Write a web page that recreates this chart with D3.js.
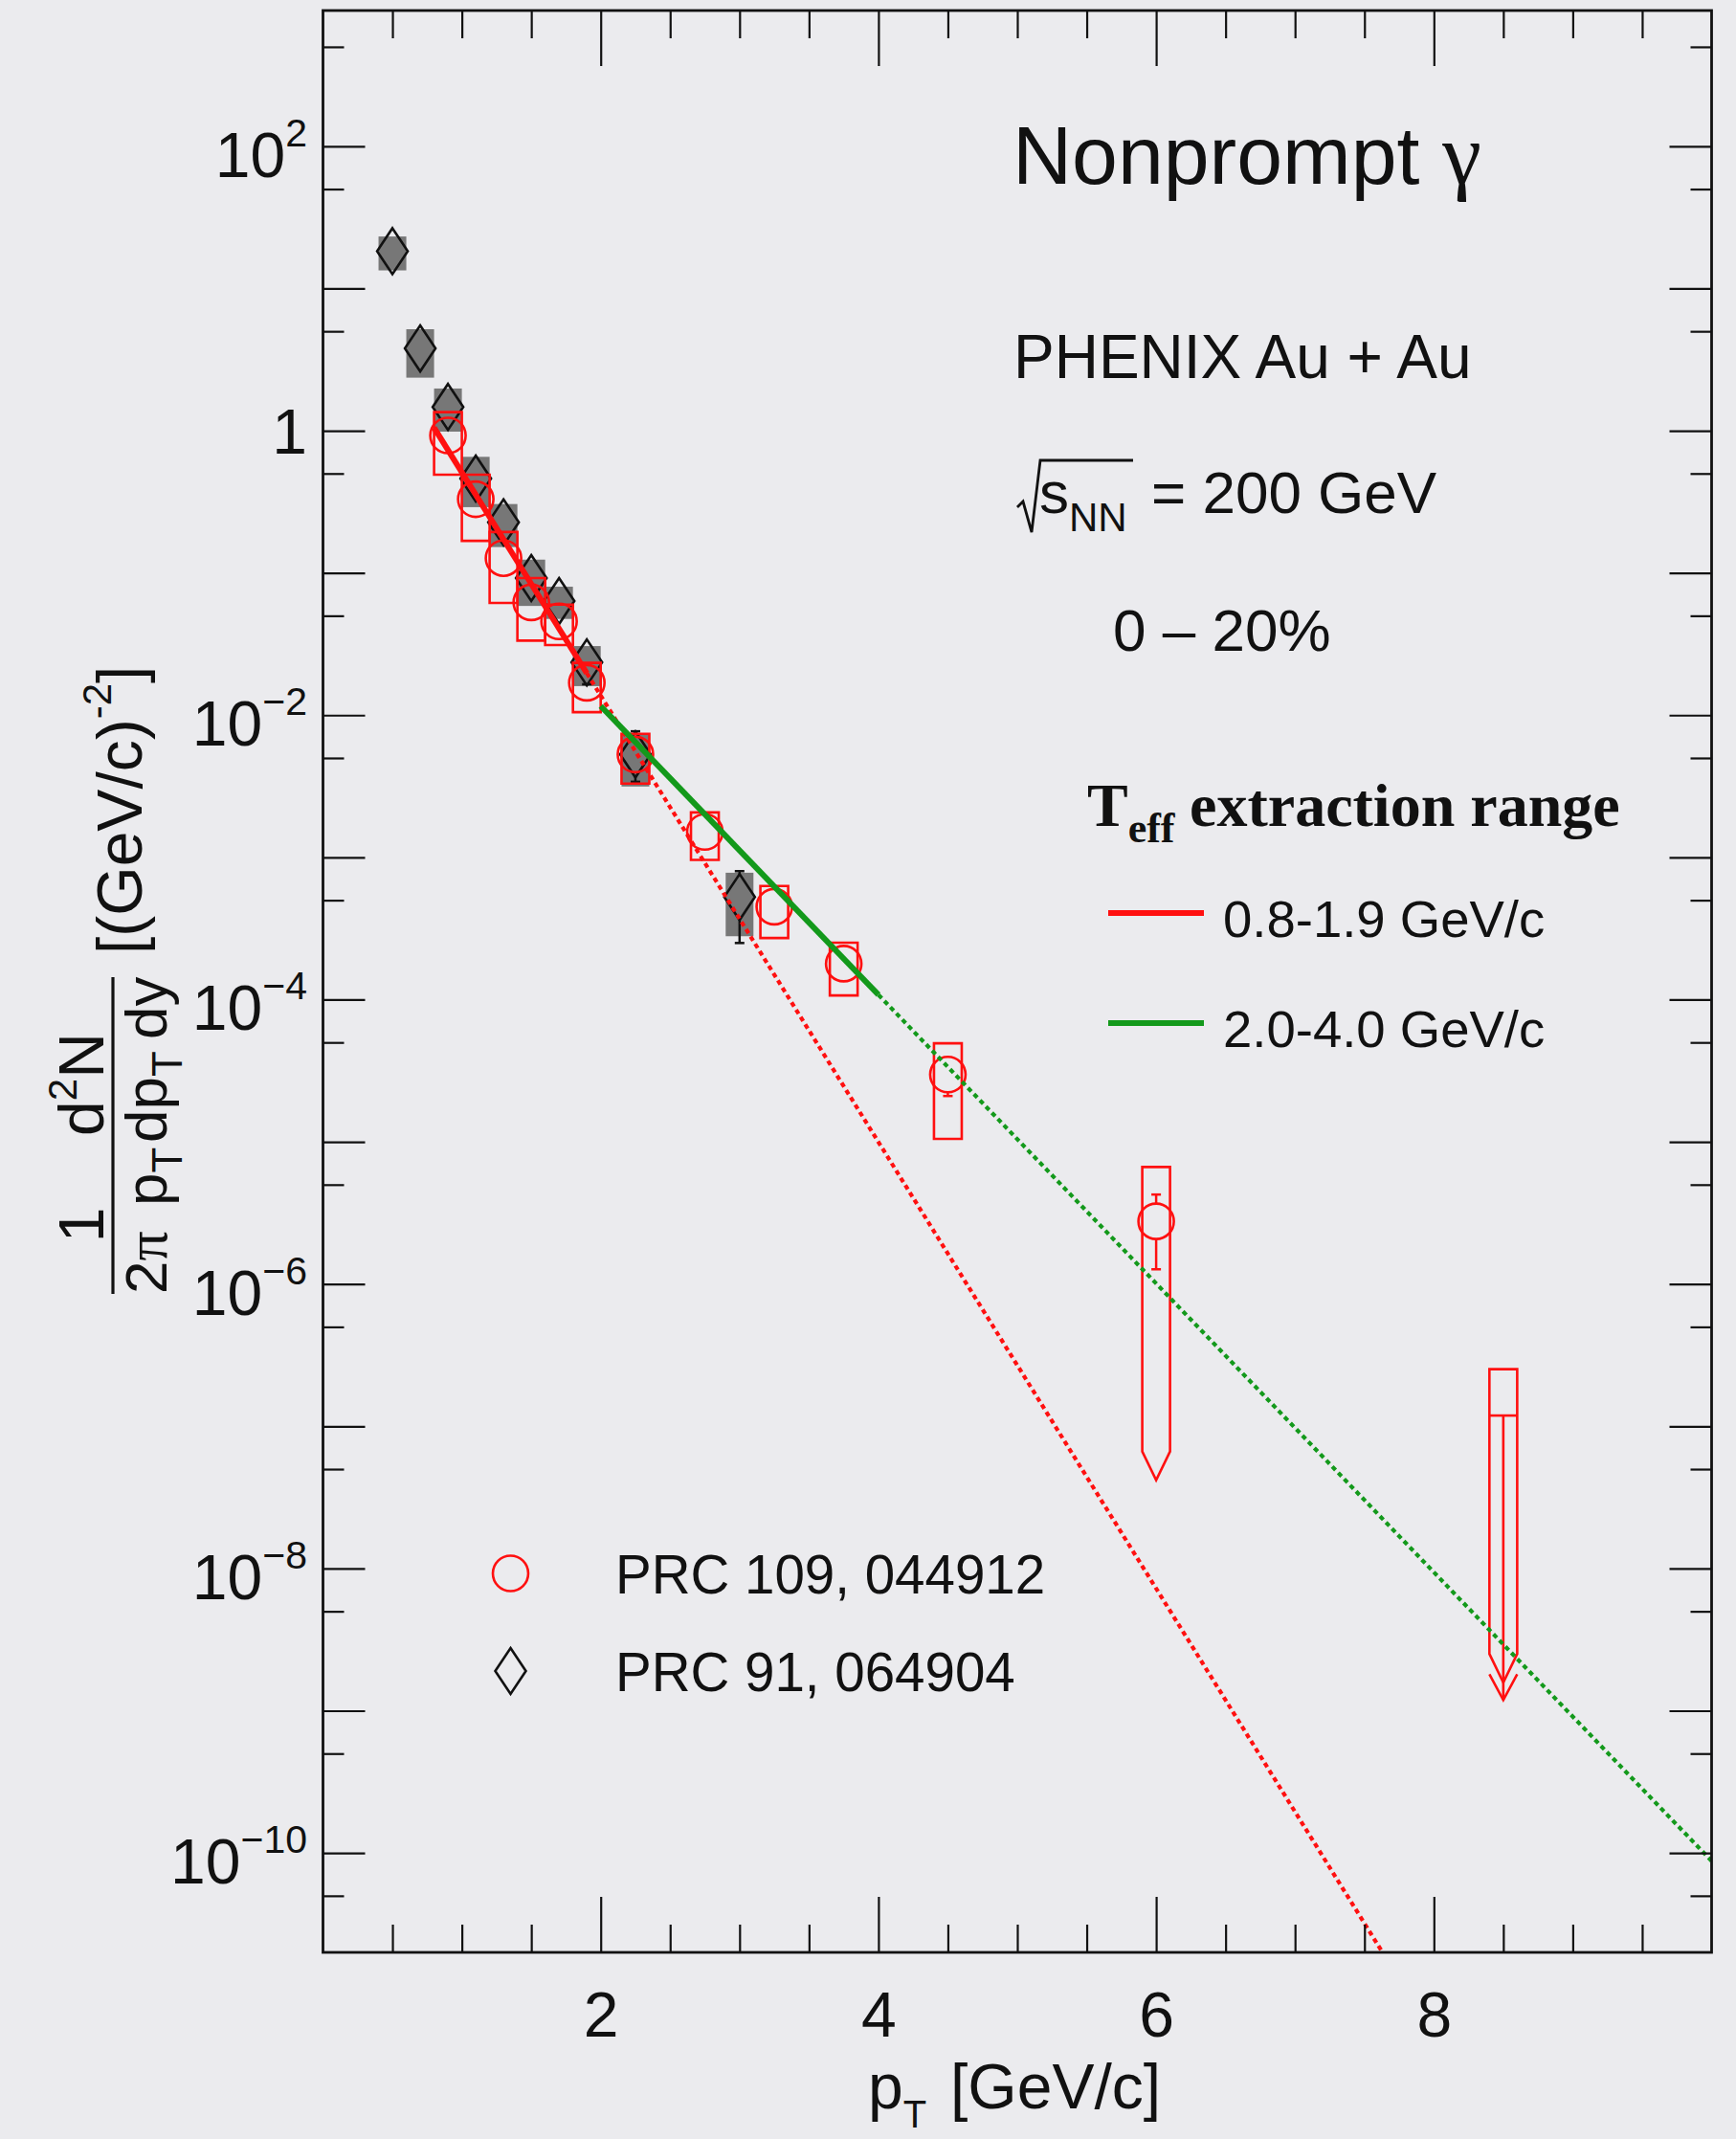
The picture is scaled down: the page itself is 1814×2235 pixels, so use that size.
<!DOCTYPE html>
<html>
<head>
<meta charset="utf-8">
<script src="https://cdn.jsdelivr.net/npm/d3@7"></script>
<style>
  html, body { margin: 0; padding: 0; background: #ebebee; }
  svg { display: block; }
  text { font-family: "Liberation Sans", Arial, Helvetica, sans-serif; fill: #111; }
  .serif { font-family: "Liberation Serif", "Times New Roman", serif; }
</style>
</head>
<body>
<svg id="chart" width="1814" height="2235"></svg>
<script>
// ---- PRC 91, 064904 (open diamonds, grey systematic boxes) ----
const pt91     = [0.5, 0.7, 0.9, 1.1, 1.3, 1.5, 1.7, 1.9, 2.25, 3.0];
const val91    = [18.3, 3.79, 1.47, 0.461, 0.227, 0.092, 0.0634, 0.0235, 0.00529, 5.26e-4];
const sysLo91  = [13.4, 2.36, 0.985, 0.29, 0.152, 0.0586, 0.0475, 0.016, 0.00315, 2.79e-4];
const sysHi91  = [23.2, 5.17, 1.98, 0.655, 0.305, 0.124, 0.080, 0.0306, 0.0074, 7.8e-4];
const statLo91 = [null, null, null, null, null, null, null, 0.0165, 0.0034, 2.5e-4];
const statHi91 = [null, null, null, null, null, null, null, null, 0.0077, 8.0e-4];

// ---- PRC 109, 044912 (open circles, open red systematic boxes) ----
const pt109     = [0.9, 1.1, 1.3, 1.5, 1.7, 1.9, 2.25, 2.75, 3.25, 3.75, 4.5, 6.0];
const val109    = [0.926, 0.33, 0.127, 0.0621, 0.0456, 0.0169, 0.00529, 1.51e-3, 4.5e-4, 1.79e-4, 2.97e-5, 2.76e-6];
const sysLo109  = [0.49, 0.168, 0.0615, 0.0334, 0.0311, 0.0105, 0.0033, 9.6e-4, 2.71e-4, 1.07e-4, 1.05e-5, null];
const sysHi109  = [1.35, 0.49, 0.194, 0.092, 0.0599, 0.0233, 0.0074, 2.07e-3, 6.3e-4, 2.51e-4, 4.93e-5, 6.65e-6];
const sysEnd109 = [null, null, null, null, null, null, null, null, null, null, null, 6.65e-8];
const statLo109 = [null, null, null, null, null, null, null, null, null, null, 2.1e-5, 1.27e-6];
const statHi109 = [null, null, null, null, null, null, null, null, null, null, 3.84e-5, 4.26e-6];

// upper limit of PRC 109 at the highest pT bin
const ulPt     = [8.5];
const ulVal    = [1.19e-7];
const ulSysHi  = [2.52e-7];
const ulSysEnd = [2.51e-9];
const ulArrow  = [1.19e-9];

// exponential fits (straight in log scale): solid over the fit range, dotted beyond
const fitRedPt    = [0.8, 1.9, 7.63];
const fitRedVal   = [1.05, 0.0197, 2.0e-11];
const fitGreenPt  = [2.0, 4.0, 10.0];
const fitGreenVal = [0.01159, 1.081e-4, 8.79e-11];

// axis ticks
const xMajor = [2, 4, 6, 8];
const xTickLabels = ["2", "4", "6", "8"];
const xMinor = [0.5, 1, 1.5, 2.5, 3, 3.5, 4.5, 5, 5.5, 6.5, 7, 7.5, 8.5, 9, 9.5];
const yMajorExp = [2, 1, 0, -1, -2, -3, -4, -5, -6, -7, -8, -9, -10];
const yMinorVal = [500, 50, 5, 0.5, 0.05, 5e-3, 5e-4, 5e-5, 5e-6, 5e-7, 5e-8, 5e-9, 5e-10, 5e-11];
const yLabelExp = [2, 0, -2, -4, -6, -8, -10];

// legend entries
const fitLegendLabels = ["0.8-1.9 GeV/c", "2.0-4.0 GeV/c"];
const dataLegendLabels = ["PRC 109, 044912", "PRC 91, 064904"];

const RED = "#ff1010", GREEN = "#13991b", GREY = "#777777";

const svg = d3.select("#chart");
const frame = { left: 337.5, right: 1788.5, top: 11, bottom: 2040 };
const x = d3.scaleLinear().domain([0, 10]).range([frame.left, frame.right]);
const y = d3.scaleLog().domain([2e-11, 900]).range([frame.bottom, frame.top]);

svg.append("rect").attr("width", 1814).attr("height", 2235).attr("fill", "#ebebee");

svg.append("defs").append("clipPath").attr("id", "plotclip")
  .append("rect").attr("x", frame.left).attr("y", frame.top)
  .attr("width", frame.right - frame.left).attr("height", frame.bottom - frame.top);

const plot = svg.append("g").attr("clip-path", "url(#plotclip)");
const halfW = 0.1; // half bin width of the systematic boxes in GeV/c

// grey systematic boxes
plot.append("g").selectAll("rect").data(pt91).join("rect")
  .attr("x", d => x(d - halfW)).attr("width", d => x(d + halfW) - x(d - halfW))
  .attr("y", (d, i) => y(sysHi91[i]))
  .attr("height", (d, i) => y(sysLo91[i]) - y(sysHi91[i]))
  .attr("fill", GREY);

// error bars: drawn only outside the marker, ROOT style
function errorBars(g, pts, vals, lo, hi, r, color) {
  pts.forEach((p, i) => {
    const cx = x(p), cy = y(vals[i]);
    if (lo[i] != null && y(lo[i]) > cy + r) {
      g.append("line").attr("x1", cx).attr("x2", cx).attr("y1", cy + r).attr("y2", y(lo[i]))
        .attr("stroke", color).attr("stroke-width", 2.5);
      g.append("line").attr("x1", cx - 5).attr("x2", cx + 5).attr("y1", y(lo[i])).attr("y2", y(lo[i]))
        .attr("stroke", color).attr("stroke-width", 2.5);
    }
    if (hi[i] != null && y(hi[i]) < cy - r) {
      g.append("line").attr("x1", cx).attr("x2", cx).attr("y1", cy - r).attr("y2", y(hi[i]))
        .attr("stroke", color).attr("stroke-width", 2.5);
      g.append("line").attr("x1", cx - 5).attr("x2", cx + 5).attr("y1", y(hi[i])).attr("y2", y(hi[i]))
        .attr("stroke", color).attr("stroke-width", 2.5);
    }
  });
}
const gErr91 = plot.append("g");
errorBars(gErr91, pt91, val91, statLo91, statHi91, 22, "#111");

// diamonds
const diamondPath = "M0,-24L16,0L0,24L-16,0Z";
plot.append("g").selectAll("path").data(pt91).join("path")
  .attr("transform", (d, i) => `translate(${x(d)},${y(val91[i])})`)
  .attr("d", diamondPath).attr("fill", "none").attr("stroke", "#111").attr("stroke-width", 2.6);

// red systematic boxes (last one continues into a downward arrow)
const headLen = 30;
plot.append("g").selectAll("path").data(pt109).join("path")
  .attr("d", (d, i) => {
    const xl = x(d - halfW), xr = x(d + halfW), xc = x(d), yt = y(sysHi109[i]);
    if (sysLo109[i] != null) {
      const yb = y(sysLo109[i]);
      return `M${xl},${yt}L${xr},${yt}L${xr},${yb}L${xl},${yb}Z`;
    }
    const ye = y(sysEnd109[i]);
    return `M${xl},${yt}L${xr},${yt}L${xr},${ye}L${xc},${ye + headLen}L${xl},${ye}Z`;
  })
  .attr("fill", "none").attr("stroke", RED).attr("stroke-width", 2.6);

const gErr109 = plot.append("g");
errorBars(gErr109, pt109, val109, statLo109, statHi109, 18.5, RED);

// circles
plot.append("g").selectAll("circle").data(pt109).join("circle")
  .attr("cx", d => x(d)).attr("cy", (d, i) => y(val109[i])).attr("r", 18.5)
  .attr("fill", "none").attr("stroke", RED).attr("stroke-width", 2.6);

// upper limit: systematic box-arrow, value line and limit arrow
const gUL = plot.append("g").attr("fill", "none").attr("stroke", RED).attr("stroke-width", 2.6);
ulPt.forEach((p, i) => {
  const xl = x(p - halfW), xr = x(p + halfW), xc = x(p);
  const yt = y(ulSysHi[i]), ye = y(ulSysEnd[i]), yv = y(ulVal[i]), ya = y(ulArrow[i]);
  gUL.append("path").attr("d", `M${xl},${yt}L${xr},${yt}L${xr},${ye}L${xc},${ye + headLen}L${xl},${ye}Z`);
  gUL.append("line").attr("x1", xl).attr("x2", xr).attr("y1", yv).attr("y2", yv);
  gUL.append("line").attr("x1", xc).attr("x2", xc).attr("y1", yv).attr("y2", ya);
  gUL.append("path").attr("d", `M${xl},${ya - 27}L${xc},${ya}L${xr},${ya - 27}`);
});

// fits
const fitLine = d3.line().x(d => x(d[0])).y(d => y(d[1]));
function drawFit(pts, vals, color) {
  const solid = [[pts[0], vals[0]], [pts[1], vals[1]]];
  const dotted = [[pts[1], vals[1]], [pts[2], vals[2]]];
  plot.append("path").attr("d", fitLine(dotted)).attr("fill", "none")
    .attr("stroke", color).attr("stroke-width", 4.2).attr("stroke-dasharray", "5 4");
  plot.append("path").attr("d", fitLine(solid)).attr("fill", "none")
    .attr("stroke", color).attr("stroke-width", 6);
}
drawFit(fitRedPt, fitRedVal, RED);
drawFit(fitGreenPt, fitGreenVal, GREEN);

// ---- axes ----
function styleAxis(g) {
  g.attr("font-size", null).attr("font-family", null).attr("color", "#111");
  g.select(".domain").remove();
  g.selectAll(".tick line").attr("stroke-width", 2.2);
}
svg.append("g").attr("transform", `translate(0,${frame.bottom})`)
  .call(d3.axisBottom(x).tickValues(xMajor).tickSize(-58).tickFormat((d, i) => xTickLabels[i]))
  .call(styleAxis)
  .call(g => g.selectAll("text").attr("y", 88).attr("dy", null).style("font-size", "66px"));
svg.append("g").attr("transform", `translate(0,${frame.bottom})`)
  .call(d3.axisBottom(x).tickValues(xMinor).tickSize(-29).tickFormat("")).call(styleAxis);
svg.append("g").attr("transform", `translate(0,${frame.top})`)
  .call(d3.axisTop(x).tickValues(xMajor).tickSize(-58).tickFormat("")).call(styleAxis);
svg.append("g").attr("transform", `translate(0,${frame.top})`)
  .call(d3.axisTop(x).tickValues(xMinor).tickSize(-29).tickFormat("")).call(styleAxis);

const yMajorVal = yMajorExp.map(e => Math.pow(10, e));
svg.append("g").attr("transform", `translate(${frame.left},0)`)
  .call(d3.axisLeft(y).tickValues(yMajorVal).tickSize(-44).tickFormat("")).call(styleAxis);
svg.append("g").attr("transform", `translate(${frame.left},0)`)
  .call(d3.axisLeft(y).tickValues(yMinorVal).tickSize(-22).tickFormat("")).call(styleAxis);
svg.append("g").attr("transform", `translate(${frame.right},0)`)
  .call(d3.axisRight(y).tickValues(yMajorVal).tickSize(-44).tickFormat("")).call(styleAxis);
svg.append("g").attr("transform", `translate(${frame.right},0)`)
  .call(d3.axisRight(y).tickValues(yMinorVal).tickSize(-22).tickFormat("")).call(styleAxis);

// y labels with superscript exponents
svg.append("g").selectAll("text").data(yLabelExp).join("text")
  .attr("x", 321).attr("y", d => y(Math.pow(10, d)) + (d === 0 ? 24 : 32))
  .attr("text-anchor", "end").style("font-size", "66px")
  .each(function (d) {
    const t = d3.select(this);
    if (d === 0) { t.text("1"); return; }
    t.append("tspan").text("10");
    t.append("tspan").attr("dy", -32).style("font-size", "41px")
      .text(d < 0 ? "\u2212" + (-d) : String(d));
  });

// frame
svg.append("rect").attr("x", frame.left).attr("y", frame.top)
  .attr("width", frame.right - frame.left).attr("height", frame.bottom - frame.top)
  .attr("fill", "none").attr("stroke", "#111").attr("stroke-width", 2.8);

// x title
const xt = svg.append("text").attr("x", 907).attr("y", 2203).style("font-size", "66px");
xt.append("tspan").text("p");
xt.append("tspan").attr("dy", 20).style("font-size", "40px").text("T");
svg.append("text").attr("x", 993).attr("y", 2203).style("font-size", "66px").text("[GeV/c]");

// y title (rotated)
const yt = svg.append("g").attr("transform", "translate(0,1352) rotate(-90)");
const den = yt.append("text").attr("x", 0).attr("y", 174).style("font-size", "62px");
den.append("tspan").text("2");
den.append("tspan").attr("class", "serif").text("\u03c0");
const pT1 = yt.append("text").attr("x", 92).attr("y", 174).style("font-size", "62px");
pT1.append("tspan").text("p");
pT1.append("tspan").attr("dy", 16).style("font-size", "44px").text("T");
const pT2 = yt.append("text").attr("x", 158).attr("y", 174).style("font-size", "62px");
pT2.append("tspan").text("dp");
pT2.append("tspan").attr("dy", 16).style("font-size", "44px").text("T");
yt.append("text").attr("x", 266).attr("y", 174).style("font-size", "62px").text("dy");
yt.append("line").attr("x1", 0).attr("x2", 331).attr("y1", 118).attr("y2", 118)
  .attr("stroke", "#111").attr("stroke-width", 3.2);
yt.append("text").attr("x", 72).attr("y", 108).attr("text-anchor", "middle")
  .style("font-size", "66px").text("1");
const num = yt.append("text").attr("x", 219).attr("y", 108).attr("text-anchor", "middle")
  .style("font-size", "66px");
num.append("tspan").text("d");
num.append("tspan").attr("dy", -28).style("font-size", "42px").text("2");
num.append("tspan").attr("dy", 28).text("N");
const unit = yt.append("text").attr("x", 355).attr("y", 148).style("font-size", "66px");
unit.append("tspan").text("[(GeV/c)");
unit.append("tspan").attr("dy", -32).style("font-size", "42px").text("-2");
unit.append("tspan").attr("dy", 32).text("]");

// annotations
const title = svg.append("text").attr("x", 1058).attr("y", 192).style("font-size", "86px");
title.append("tspan").text("Nonprompt ");
title.append("tspan").attr("class", "serif").style("font-size", "92px").text("\u03b3");

svg.append("text").attr("x", 1059).attr("y", 395).style("font-size", "64px").text("PHENIX Au + Au");

svg.append("path").attr("d", "M1063,530L1069,524L1078,556L1087,481L1184,481")
  .attr("fill", "none").attr("stroke", "#111").attr("stroke-width", 2.8);
const rs = svg.append("text").attr("x", 1086).attr("y", 536).style("font-size", "62px");
rs.append("tspan").text("s");
rs.append("tspan").attr("dy", 19).style("font-size", "42px").text("NN");
svg.append("text").attr("x", 1203).attr("y", 536).style("font-size", "62px").text("= 200 GeV");
svg.append("text").attr("x", 1163).attr("y", 680).style("font-size", "62px").text("0 \u2013 20%");

const teff = svg.append("text").attr("class", "serif").attr("x", 1136).attr("y", 863)
  .style("font-size", "64px").style("font-weight", "bold");
teff.append("tspan").text("T");
teff.append("tspan").attr("dy", 17).style("font-size", "44px").text("eff");
svg.append("text").attr("class", "serif").attr("x", 1243).attr("y", 863)
  .style("font-size", "64px").style("font-weight", "bold").text("extraction range");

const fitColors = [RED, GREEN];
const fitLegY = [954, 1069];
fitLegendLabels.forEach((lab, i) => {
  svg.append("line").attr("x1", 1158).attr("x2", 1258).attr("y1", fitLegY[i]).attr("y2", fitLegY[i])
    .attr("stroke", fitColors[i]).attr("stroke-width", 6);
  svg.append("text").attr("x", 1278).attr("y", fitLegY[i] + 25).style("font-size", "54.5px").text(lab);
});

const dataLegY = [1644, 1746];
svg.append("circle").attr("cx", 533.5).attr("cy", dataLegY[0]).attr("r", 18.5)
  .attr("fill", "none").attr("stroke", RED).attr("stroke-width", 2.6);
svg.append("path").attr("transform", `translate(533.5,${dataLegY[1]})`).attr("d", diamondPath)
  .attr("fill", "none").attr("stroke", "#111").attr("stroke-width", 2.6);
dataLegendLabels.forEach((lab, i) => {
  svg.append("text").attr("x", 643).attr("y", dataLegY[i] + 21).style("font-size", "56.5px").text(lab);
});
</script>
</body>
</html>
